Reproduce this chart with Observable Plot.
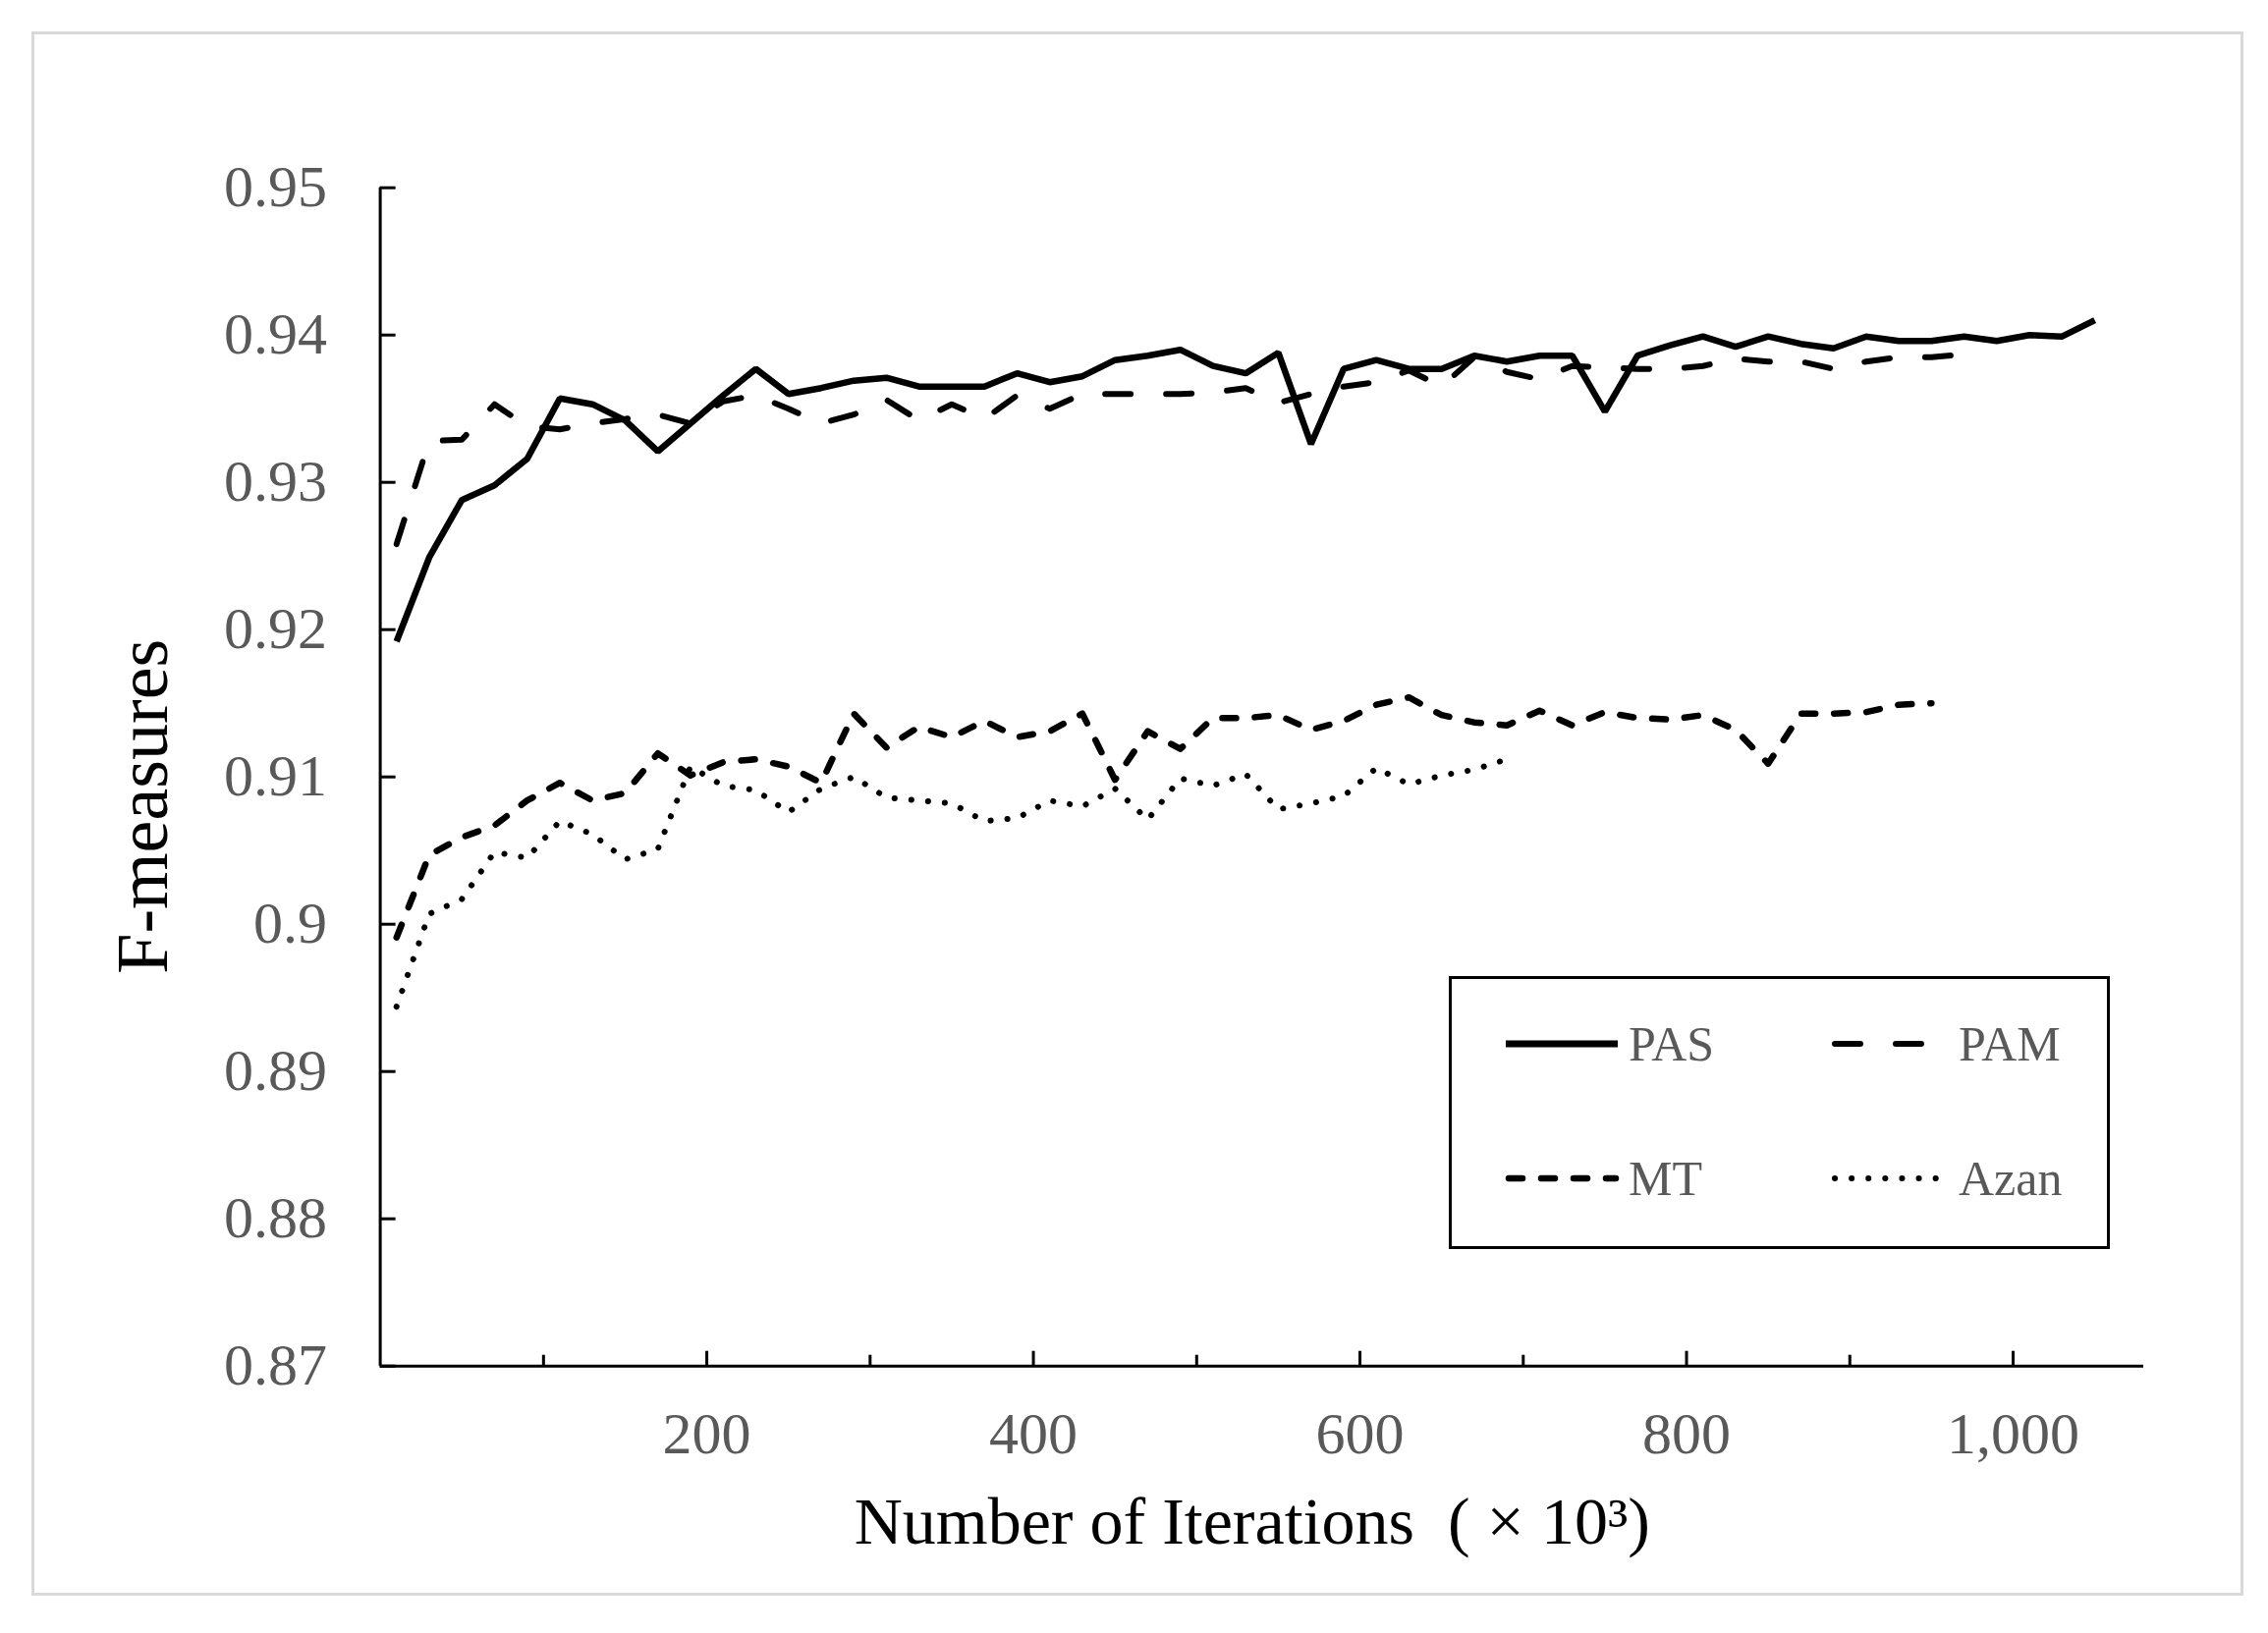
<!DOCTYPE html>
<html><head><meta charset="utf-8">
<script src="https://cdn.jsdelivr.net/npm/d3@7"></script>
<script src="https://cdn.jsdelivr.net/npm/@observablehq/plot@0.6"></script>
<style>
html,body{margin:0;padding:0;background:#fff;overflow:hidden}
#wrap{position:relative;width:2309px;height:1663px;font-family:"Liberation Serif","Times New Roman",serif}
#border{position:absolute;left:32px;top:32px;width:2252px;height:1593px;box-sizing:border-box;border:3px solid #d9d9d9;pointer-events:none}
#legend{position:absolute;left:1475px;top:994px}
svg{display:block}
</style></head><body><div id="wrap"><div id="border"></div></div>
<script>
const iterations = [10,30,50,70,90,110,130,150,170,190,210,230,250,270,290,310,330,350,370,390,410,430,450,470,490,510,530,550,570,590,610,630,650,670,690,710,730,750,770,790,810,830,850,870,890,910,930,950,970,990,1010,1030,1050];

const pas = [0.9192,0.9249,0.9288,0.9298,0.9316,0.9357,0.9353,0.9342,0.9321,0.9340,0.9359,0.9377,0.9360,0.9364,0.9369,0.9371,0.9365,0.9365,0.9365,0.9374,0.9368,0.9372,0.9383,0.9386,0.9390,0.9379,0.9374,0.9388,0.9326,0.9377,0.9383,0.9377,0.9377,0.9386,0.9382,0.9386,0.9386,0.9348,0.9386,0.9393,0.9399,0.9392,0.9399,0.9394,0.9391,0.9399,0.9396,0.9396,0.9399,0.9396,0.9400,0.9399,0.9410];

const pam = [0.9258,0.9328,0.9329,0.9353,0.9338,0.9336,0.9340,0.9343,0.9346,0.9340,0.9355,0.9359,0.9350,0.9340,0.9346,0.9356,0.9342,0.9353,0.9343,0.9359,0.9350,0.9360,0.9360,0.9360,0.9360,0.9361,0.9364,0.9354,0.9360,0.9365,0.9368,0.9376,0.9365,0.9385,0.9375,0.9370,0.9379,0.9378,0.9377,0.9377,0.9379,0.9384,0.9382,0.9382,0.9377,0.9382,0.9385,0.9385,0.9387];

const mt = [0.8991,0.9047,0.9059,0.9067,0.9084,0.9096,0.9084,0.9089,0.9116,0.9101,0.9110,0.9112,0.9107,0.9096,0.9143,0.9120,0.9134,0.9127,0.9138,0.9127,0.9131,0.9143,0.9098,0.9131,0.9119,0.9140,0.9140,0.9142,0.9132,0.9138,0.9149,0.9154,0.9142,0.9137,0.9135,0.9145,0.9135,0.9144,0.9140,0.9139,0.9142,0.9132,0.9109,0.9143,0.9143,0.9144,0.9149,0.9150];

const azan = [0.8944,0.9007,0.9017,0.9049,0.9045,0.9070,0.9061,0.9044,0.9051,0.9107,0.9094,0.9091,0.9076,0.9092,0.9100,0.9086,0.9084,0.9082,0.9070,0.9072,0.9084,0.9080,0.9092,0.9071,0.9099,0.9094,0.9102,0.9078,0.9082,0.9087,0.9106,0.9095,0.9101,0.9105,0.9112];

const seriesNames = ["PAS","PAM","MT","Azan"];
const yTicks = [0.87,0.88,0.89,0.90,0.91,0.92,0.93,0.94,0.95];
const xMinorTicks = [100,300,500,700,900];
const xMajorTicks = [200,400,600,800,1000];
const xLabel = "Number of Iterations\u00a0\u00a0( \u00d7 10\u00b3)";
const yLabel = "F-measures";

const toRows = vals => vals.map((v, i) => ({x: iterations[i], y: v}));

const W = 2309, H = 1663;
const mL = 386.6, mR = 127, mT = 190.7, mB = 272.3;
const plotW = W - mL - mR, plotH = H - mT - mB;

const styles = {
  PAS:  {stroke: "#000", strokeWidth: 6.5, strokeLinejoin: "miter", strokeLinecap: "butt"},
  PAM:  {stroke: "#000", strokeWidth: 6, strokeDasharray: "26,36", strokeLinecap: "round"},
  MT:   {stroke: "#000", strokeWidth: 6.5, strokeDasharray: "14,19", strokeLinecap: "round"},
  Azan: {stroke: "#000", strokeWidth: 6, strokeDasharray: "0.1,17", strokeLinecap: "round"}
};
const seriesData = {PAS: pas, PAM: pam, MT: mt, Azan: azan};

const chart = Plot.plot({
  width: W, height: H,
  marginLeft: mL, marginRight: mR, marginTop: mT, marginBottom: mB,
  style: {fontFamily: "'Liberation Serif','Times New Roman',serif", background: "transparent", overflow: "visible"},
  x: {domain: [0, 1080]},
  y: {domain: [0.87, 0.95]},
  marks: [
    Plot.axisY({ticks: yTicks, tickSize: 0, tickPadding: 54, fontSize: 60, color: "#595959",
      tickFormat: d => String(+d.toFixed(2)), label: null}),
    Plot.axisX({ticks: xMajorTicks, tickSize: 0, tickPadding: 46, fontSize: 60, color: "#595959",
      tickFormat: d3.format(","), label: null}),
    Plot.tickY(yTicks, {y: d => d, insetRight: plotW - 16, stroke: "#000", strokeWidth: 3}),
    Plot.tickX(xMinorTicks, {x: d => d, insetTop: plotH - 11, stroke: "#000", strokeWidth: 3}),
    Plot.tickX(xMajorTicks, {x: d => d, insetTop: plotH - 15, stroke: "#000", strokeWidth: 3}),
    Plot.ruleX([0], {stroke: "#000", strokeWidth: 3}),
    Plot.ruleY([0.87], {stroke: "#000", strokeWidth: 3}),
    ...seriesNames.map(n => Plot.line(toRows(seriesData[n]), {x: "x", y: "y", ...styles[n]})),
    Plot.text([xLabel], {frameAnchor: "bottom", text: d => d, dx: -10, dy: 181, lineAnchor: "bottom",
      fontSize: 68, fill: "#000"}),
    Plot.text([yLabel], {frameAnchor: "left", text: d => d, rotate: -90, dx: -217, dy: 30, lineAnchor: "bottom",
      textAnchor: "middle", fontSize: 74, fill: "#000"})
  ]
});
document.getElementById("wrap").prepend(chart);

// legend
const lg = d3.select("#wrap").append("svg").attr("id", "legend")
  .attr("width", 674).attr("height", 279);
lg.append("rect").attr("x", 1.5).attr("y", 1.5).attr("width", 670).attr("height", 275)
  .attr("fill", "#fff").attr("stroke", "#000").attr("stroke-width", 3);
const entries = [
  {name: "PAS", x1: 58, x2: 172, tx: 183, y: 69},
  {name: "PAM", x1: 393, x2: 481, tx: 519, y: 69},
  {name: "MT", x1: 61, x2: 170, tx: 183, y: 206},
  {name: "Azan", x1: 393, x2: 500, tx: 519, y: 206}
];
entries.forEach(e => {
  const s = styles[e.name];
  const l = lg.append("line").attr("x1", e.x1).attr("x2", e.x2).attr("y1", e.y).attr("y2", e.y)
    .attr("stroke", s.stroke).attr("stroke-width", e.name === "PAS" ? 7 : s.strokeWidth)
    .attr("stroke-linecap", s.strokeLinecap);
  if (s.strokeDasharray) l.attr("stroke-dasharray", s.strokeDasharray);
  lg.append("text").attr("x", e.tx).attr("y", e.y + 17).text(e.name)
    .attr("font-family", "'Liberation Serif','Times New Roman',serif")
    .attr("font-size", 50).attr("fill", "#595959");
});
</script>
</body></html>
